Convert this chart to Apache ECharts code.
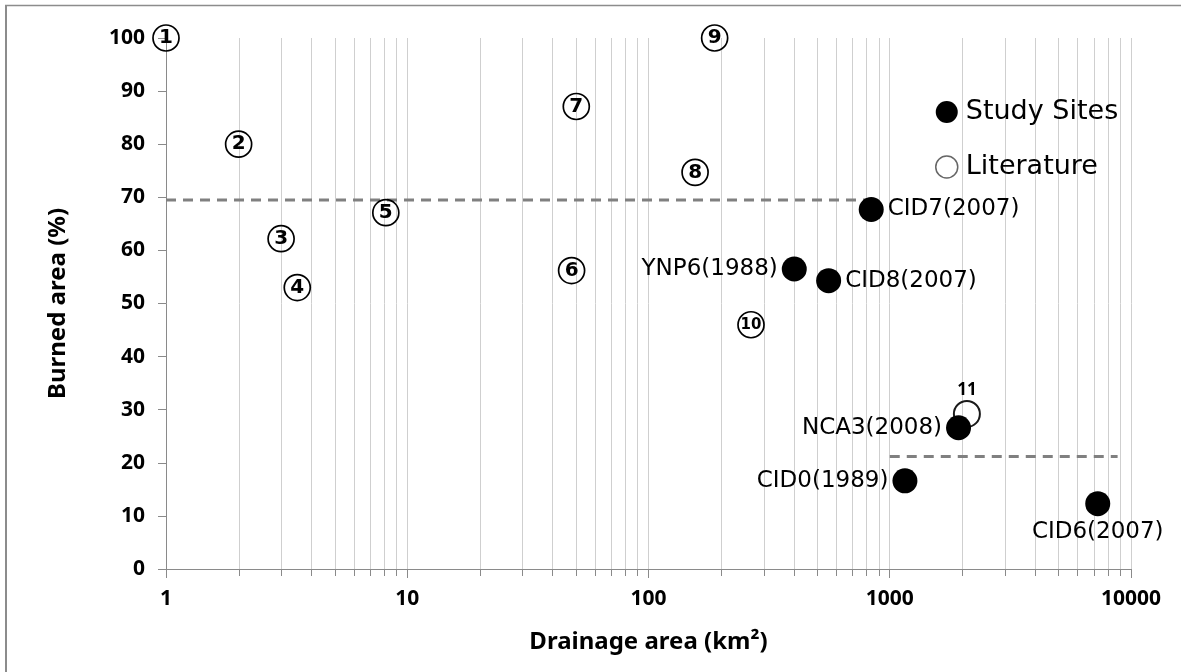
<!DOCTYPE html>
<html><head><meta charset="utf-8">
<script src="https://cdn.jsdelivr.net/npm/echarts@6/dist/echarts.min.js"></script>
<style>html,body{margin:0;padding:0;background:#fff}#c{width:1181px;height:672px}</style>
</head><body><div id="c"></div>
<script>
// ---- data ----
const studyNames  = ['CID7(2007)', 'YNP6(1988)', 'CID8(2007)', 'NCA3(2008)', 'CID0(1989)', 'CID6(2007)'];
const studyArea   = [838, 402, 558, 1928, 1156, 7280];
const studyBurned = [67.7, 56.5, 54.3, 26.6, 16.6, 12.3];

const litNum    = ['1', '2', '3', '4', '5', '6', '7', '8', '9', '10', '11'];
const litArea   = [1, 2, 3, 3.5, 8.15, 48, 50.2, 156, 188, 266, 2088];
const litBurned = [100, 80, 62.2, 53, 67.1, 56.2, 87.1, 74.7, 100, 46, 29.2];

const threshA = { y: 69.5, from: 1, to: 810 };
const threshB = { y: 21.2, from: 1000, to: 8800 };

const xTickLabels = ['1', '10', '100', '1000', '10000'];
const decades = [1, 10, 100, 1000];
const minorMult = [2, 3, 4, 5, 6, 7, 8, 9];

// ---- build ----
const labelPlacement = {
  'CID7(2007)': 'right', 'YNP6(1988)': 'left', 'CID8(2007)': 'right',
  'NCA3(2008)': 'left', 'CID0(1989)': 'left', 'CID6(2007)': 'bottom'
};

const minorVals = [];
decades.forEach(d => minorMult.forEach(m => minorVals.push([d * m, 0])));

const studyData = studyNames.map((n, i) => ({
  name: n, value: [studyArea[i], studyBurned[i]],
  label: { position: labelPlacement[n] }
}));

const litData = litNum.map((n, i) => {
  const item = { name: n, value: [litArea[i], litBurned[i]] };
  if (n === '11') {
    item.symbolSize = 26;
    item.itemStyle = { borderWidth: 2, borderColor: '#1a1a1a' };
    item.label = { position: 'top', distance: 1, fontSize: 17, fontWeight: 'bold', fontFamily: 'Noto Sans' };
  } else if (n === '10') {
    item.label = { fontSize: 15, letterSpacing: -1 };
  }
  return item;
});

const FONT = 'DejaVu Sans';
const chart = echarts.init(document.getElementById('c'), null, { renderer: 'canvas' });
chart.setOption({
  animation: false,
  backgroundColor: '#fff',
  grid: { left: 166, right: 50, top: 38, bottom: 103, containLabel: false },
  xAxis: {
    type: 'log', logBase: 10, min: 1, max: 10000,
    name: 'Drainage area (km²)', nameLocation: 'middle', nameGap: 61,
    nameTextStyle: { fontFamily: 'Noto Sans', fontWeight: 'bold', fontSize: 24, color: '#000' },
    axisLine: { lineStyle: { color: '#8a8a8a', width: 1 } },
    axisTick: { show: true, length: 9, lineStyle: { color: '#8a8a8a' } },
    splitLine: { show: true, lineStyle: { color: '#cfcfcf', width: 1 } },
    axisLabel: {
      margin: 20, fontFamily: 'Noto Sans', fontWeight: 'bold', fontSize: 21, color: '#000',
      formatter: v => { const k = Math.round(Math.log10(v)); return xTickLabels[k] !== undefined ? xTickLabels[k] : ''; }
    }
  },
  yAxis: {
    type: 'value', min: 0, max: 100, interval: 10,
    name: 'Burned area (%)', nameLocation: 'middle', nameGap: 96, nameRotate: 90,
    nameTextStyle: { fontFamily: 'Noto Sans', fontWeight: 'bold', fontSize: 24, color: '#000' },
    axisLine: { show: true, lineStyle: { color: '#8a8a8a', width: 1 } },
    axisTick: { show: true, length: 8, lineStyle: { color: '#8a8a8a' } },
    splitLine: { show: false },
    axisLabel: { margin: 21, fontFamily: 'Noto Sans', fontWeight: 'bold', fontSize: 21, color: '#000' }
  },
  legend: {
    data: [
      { name: 'Study Sites', itemStyle: { color: '#000', opacity: 1 } },
      { name: 'Literature', itemStyle: { color: '#fff', borderColor: '#666', borderWidth: 1.5, opacity: 1 } }
    ],
    orient: 'vertical', left: 930, top: 92,
    icon: 'circle', itemWidth: 22, itemHeight: 22, itemGap: 25,
    textStyle: { fontFamily: FONT, fontSize: 27, color: '#000', lineHeight: 30, padding: [0, 0, 0, 3] }
  },
  graphic: [
    { type: 'line', shape: { x1: 6, y1: 5, x2: 6, y2: 672 }, style: { stroke: '#8c8c8c', lineWidth: 2 } },
    { type: 'line', shape: { x1: 5, y1: 5.5, x2: 1181, y2: 5.5 }, style: { stroke: '#8c8c8c', lineWidth: 1.5 } }
  ],
  series: [
    {
      type: 'custom', name: 'minorGrid', silent: true, clip: false, z: 1,
      data: minorVals, encode: { x: 0, y: 1 },
      renderItem: (params, api) => {
        const v = api.value(0);
        const top = api.coord([v, 100]);
        const bot = api.coord([v, 0]);
        const x = Math.round(bot[0]) + 0.5;
        return {
          type: 'group', children: [
            { type: 'line', shape: { x1: x, y1: top[1], x2: x, y2: bot[1] },
              style: { stroke: '#cfcfcf', lineWidth: 1 } },
            { type: 'line', shape: { x1: x, y1: bot[1], x2: x, y2: bot[1] + 7 },
              style: { stroke: '#8a8a8a', lineWidth: 1 } }
          ]
        };
      }
    },
    {
      type: 'line', name: 'thA', silent: true, symbol: 'none', z: 2,
      data: [[threshA.from, threshA.y], [threshA.to, threshA.y]],
      lineStyle: { color: '#808080', width: 3, type: [10, 7] }
    },
    {
      type: 'line', name: 'thB', silent: true, symbol: 'none', z: 2,
      data: [[threshB.from, threshB.y], [threshB.to, threshB.y]],
      lineStyle: { color: '#808080', width: 3, type: [10, 7] }
    },
    {
      type: 'scatter', name: 'Literature', clip: false, z: 3,
      symbol: 'circle', symbolSize: 26,
      itemStyle: { color: 'rgba(255,255,255,0)', borderColor: '#000', borderWidth: 1.7, opacity: 1 },
      label: {
        show: true, position: 'inside', color: '#000',
        fontFamily: FONT, fontSize: 20, fontWeight: 'bold',
        formatter: p => p.name
      },
      data: litData
    },
    {
      type: 'scatter', name: 'Study Sites', clip: false, z: 4,
      symbol: 'circle', symbolSize: 25,
      itemStyle: { color: '#000', opacity: 1 },
      label: {
        show: true, distance: 4, color: '#000',
        fontFamily: FONT, fontSize: 23,
        formatter: p => p.name
      },
      data: studyData
    }
  ]
});
</script>
</body></html>
